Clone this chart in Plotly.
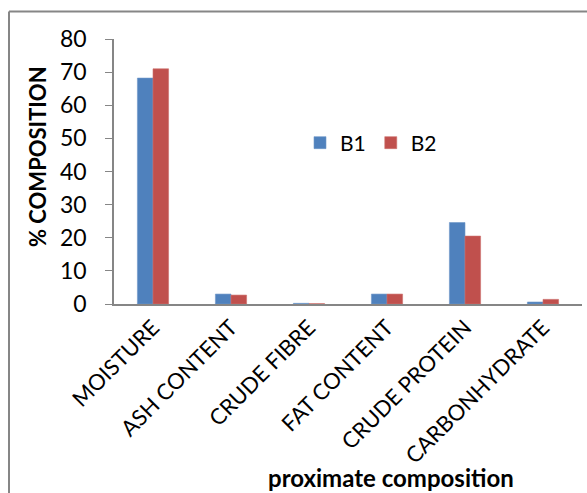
import plotly.graph_objects as go

# Proximate composition of two samples (%)
categories = ["MOISTURE", "ASH CONTENT", "CRUDE FIBRE", "FAT CONTENT",
              "CRUDE PROTEIN", "CARBONHYDRATE"]
b1_values = [68.2, 3.0, 0.2, 3.0, 24.6, 0.6]
b2_values = [71.0, 2.7, 0.1, 3.0, 20.5, 1.4]
y_ticks = [0, 10, 20, 30, 40, 50, 60, 70, 80]

FONT = "Lato, Carlito, Calibri, sans-serif"
AXIS_GREY = "#868686"

fig = go.Figure()
fig.add_trace(go.Bar(name="B1", x=categories, y=b1_values,
                     marker=dict(color="#4F81BD", line=dict(color="#6F97C8", width=0.6))))
fig.add_trace(go.Bar(name="B2", x=categories, y=b2_values,
                     marker=dict(color="#C0504D", line=dict(color="#CC706D", width=0.6))))

W, H = 587, 493
L, R, T, B = 114, 5, 39, 189
pw, ph = W - L - R, H - T - B

def px(x):
    return (x - L) / pw

def py(y):
    return (H - B - y) / ph

fig.update_layout(
    width=W, height=H,
    margin=dict(l=L, r=R, t=T, b=B),
    paper_bgcolor="white", plot_bgcolor="white",
    barmode="group", bargap=0.6, bargroupgap=0,
    font=dict(family=FONT, size=16, color="black"),
    showlegend=True,
    legend=dict(orientation="h", x=px(300), y=py(143), xanchor="left", yanchor="middle",
                font=dict(size=21), itemwidth=30, bgcolor="rgba(0,0,0,0)"),
    xaxis=dict(tickangle=-45, showline=True, linecolor=AXIS_GREY, linewidth=2,
               ticks="", showgrid=False, tickfont=dict(size=22)),
    yaxis=dict(range=[0, 80], tickvals=y_ticks, showline=True, linecolor=AXIS_GREY,
               linewidth=1.5, ticks="outside", ticklen=7, tickcolor=AXIS_GREY,
               ticklabelstandoff=14,
               showgrid=False, zeroline=False, tickfont=dict(size=23)),
    annotations=[
        dict(text="<b>proximate composition</b>", xref="paper", yref="paper",
             x=px(391), y=py(477), xanchor="center", yanchor="middle",
             showarrow=False, font=dict(size=24)),
        dict(text="<b>% COMPOSITION</b>", xref="paper", yref="paper",
             x=px(37), y=py(157), xanchor="center", yanchor="middle", textangle=-90,
             showarrow=False, font=dict(size=22)),
    ],
    shapes=[
        dict(type="line", xref="paper", yref="paper", x0=px(9), x1=px(9),
             y0=py(11.5), y1=py(493), line=dict(color=AXIS_GREY, width=2)),
        dict(type="line", xref="paper", yref="paper", x0=px(9), x1=px(587),
             y0=py(11.5), y1=py(11.5), line=dict(color=AXIS_GREY, width=2)),
    ],
)

fig.write_html("out.html")
